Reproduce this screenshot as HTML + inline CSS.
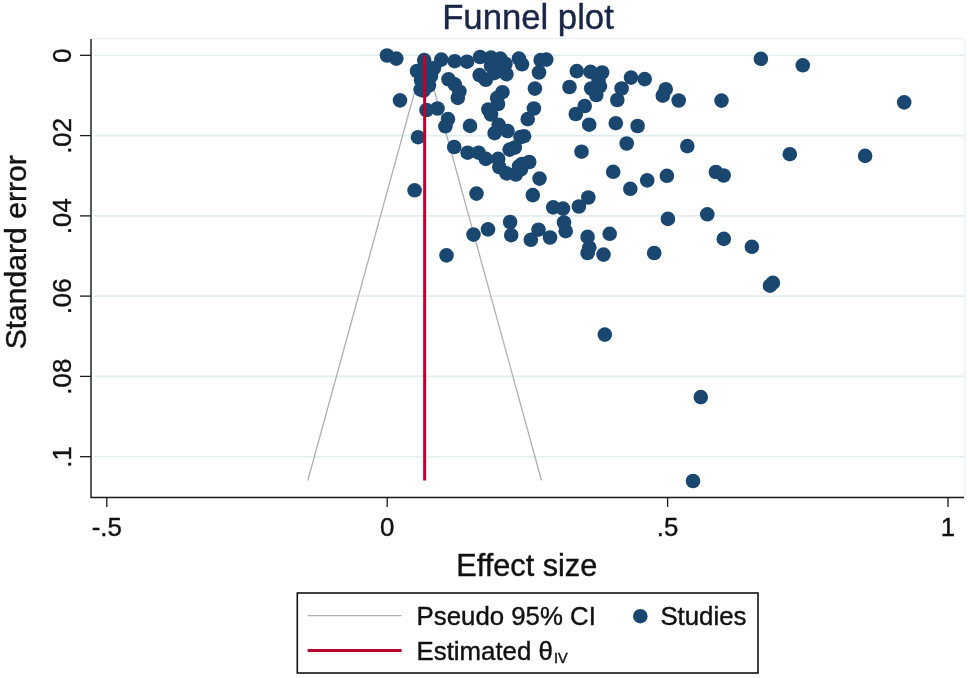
<!DOCTYPE html>
<html><head><meta charset="utf-8"><title>Funnel plot</title>
<style>
html,body{margin:0;padding:0;background:#fff;}
body{width:968px;height:678px;overflow:hidden;}
svg{display:block;font-family:"Liberation Sans",sans-serif;}
</style></head><body>
<svg width="968" height="678" viewBox="0 0 968 678">
<rect x="0" y="0" width="968" height="678" fill="#ffffff"/>
<rect x="91" y="38.7" width="873.7" height="458.5" fill="#ffffff" stroke="#e9f2f4" stroke-width="1.2"/>
<line x1="94.5" x2="964.5" y1="55.3" y2="55.3" stroke="#e0eef1" stroke-width="1.6"/>
<line x1="94.5" x2="964.5" y1="135.6" y2="135.6" stroke="#e0eef1" stroke-width="1.6"/>
<line x1="94.5" x2="964.5" y1="215.9" y2="215.9" stroke="#e0eef1" stroke-width="1.6"/>
<line x1="94.5" x2="964.5" y1="296.1" y2="296.1" stroke="#e0eef1" stroke-width="1.6"/>
<line x1="94.5" x2="964.5" y1="376.4" y2="376.4" stroke="#e0eef1" stroke-width="1.6"/>
<line x1="94.5" x2="964.5" y1="456.7" y2="456.7" stroke="#e0eef1" stroke-width="1.6"/>
<polyline points="307.8,480.5 424.65,55.3 541.5,480.5" fill="none" stroke="#b0b0b0" stroke-width="1.3"/>
<g fill="#1a476f">
<circle cx="387.0" cy="55.5" r="7.3"/>
<circle cx="396.3" cy="58.6" r="7.3"/>
<circle cx="400.0" cy="100.4" r="7.3"/>
<circle cx="424.2" cy="60.1" r="7.3"/>
<circle cx="417.0" cy="71.0" r="7.3"/>
<circle cx="420.6" cy="89.6" r="7.3"/>
<circle cx="428.9" cy="85.5" r="7.3"/>
<circle cx="431.0" cy="76.0" r="7.3"/>
<circle cx="434.0" cy="68.0" r="7.3"/>
<circle cx="441.3" cy="59.6" r="7.3"/>
<circle cx="454.7" cy="61.2" r="7.3"/>
<circle cx="467.0" cy="61.7" r="7.3"/>
<circle cx="448.5" cy="79.3" r="7.3"/>
<circle cx="454.7" cy="84.4" r="7.3"/>
<circle cx="457.8" cy="97.9" r="7.3"/>
<circle cx="426.5" cy="110.0" r="7.3"/>
<circle cx="437.5" cy="108.5" r="7.3"/>
<circle cx="421.0" cy="80.0" r="7.3"/>
<circle cx="425.0" cy="70.0" r="7.3"/>
<circle cx="423.7" cy="90.6" r="7.3"/>
<circle cx="459.4" cy="91.5" r="7.3"/>
<circle cx="480.1" cy="57.0" r="7.3"/>
<circle cx="491.0" cy="57.6" r="7.3"/>
<circle cx="500.3" cy="58.6" r="7.3"/>
<circle cx="505.5" cy="63.8" r="7.3"/>
<circle cx="501.3" cy="71.0" r="7.3"/>
<circle cx="506.5" cy="74.1" r="7.3"/>
<circle cx="494.1" cy="73.1" r="7.3"/>
<circle cx="479.6" cy="75.1" r="7.3"/>
<circle cx="485.8" cy="79.8" r="7.3"/>
<circle cx="491.0" cy="65.8" r="7.3"/>
<circle cx="518.9" cy="58.6" r="7.3"/>
<circle cx="522.0" cy="64.3" r="7.3"/>
<circle cx="540.6" cy="60.1" r="7.3"/>
<circle cx="546.3" cy="59.6" r="7.3"/>
<circle cx="539.0" cy="72.5" r="7.3"/>
<circle cx="534.9" cy="88.6" r="7.3"/>
<circle cx="533.9" cy="108.5" r="7.3"/>
<circle cx="502.4" cy="92.2" r="7.3"/>
<circle cx="497.2" cy="97.9" r="7.3"/>
<circle cx="498.0" cy="104.0" r="7.3"/>
<circle cx="488.4" cy="109.5" r="7.3"/>
<circle cx="448.0" cy="119.1" r="7.3"/>
<circle cx="445.4" cy="126.3" r="7.3"/>
<circle cx="418.0" cy="137.2" r="7.3"/>
<circle cx="454.2" cy="147.0" r="7.3"/>
<circle cx="470.0" cy="125.9" r="7.3"/>
<circle cx="467.6" cy="152.7" r="7.3"/>
<circle cx="491.0" cy="114.5" r="7.3"/>
<circle cx="498.7" cy="124.8" r="7.3"/>
<circle cx="494.6" cy="133.1" r="7.3"/>
<circle cx="507.5" cy="131.0" r="7.3"/>
<circle cx="524.0" cy="136.2" r="7.3"/>
<circle cx="520.5" cy="137.0" r="7.3"/>
<circle cx="509.6" cy="149.6" r="7.3"/>
<circle cx="514.8" cy="147.5" r="7.3"/>
<circle cx="527.7" cy="119.1" r="7.3"/>
<circle cx="478.6" cy="152.7" r="7.3"/>
<circle cx="485.8" cy="158.9" r="7.3"/>
<circle cx="498.2" cy="158.9" r="7.3"/>
<circle cx="499.3" cy="167.1" r="7.3"/>
<circle cx="529.2" cy="162.0" r="7.3"/>
<circle cx="519.0" cy="166.3" r="7.3"/>
<circle cx="506.5" cy="173.4" r="7.3"/>
<circle cx="515.8" cy="174.5" r="7.3"/>
<circle cx="521.0" cy="169.3" r="7.3"/>
<circle cx="522.0" cy="164.0" r="7.3"/>
<circle cx="539.5" cy="178.6" r="7.3"/>
<circle cx="532.8" cy="195.1" r="7.3"/>
<circle cx="476.5" cy="193.6" r="7.3"/>
<circle cx="510.1" cy="222.0" r="7.3"/>
<circle cx="488.0" cy="229.4" r="7.3"/>
<circle cx="538.5" cy="229.7" r="7.3"/>
<circle cx="553.2" cy="207.4" r="7.3"/>
<circle cx="563.0" cy="208.6" r="7.3"/>
<circle cx="473.5" cy="234.6" r="7.3"/>
<circle cx="414.6" cy="190.3" r="7.3"/>
<circle cx="576.8" cy="71.1" r="7.3"/>
<circle cx="590.5" cy="71.8" r="7.3"/>
<circle cx="602.1" cy="72.5" r="7.3"/>
<circle cx="569.5" cy="87.0" r="7.3"/>
<circle cx="591.2" cy="88.5" r="7.3"/>
<circle cx="599.9" cy="86.3" r="7.3"/>
<circle cx="596.3" cy="95.0" r="7.3"/>
<circle cx="598.5" cy="79.8" r="7.3"/>
<circle cx="621.6" cy="88.5" r="7.3"/>
<circle cx="617.3" cy="100.0" r="7.3"/>
<circle cx="631.0" cy="77.6" r="7.3"/>
<circle cx="644.7" cy="79.1" r="7.3"/>
<circle cx="665.7" cy="89.2" r="7.3"/>
<circle cx="662.8" cy="95.7" r="7.3"/>
<circle cx="678.7" cy="100.5" r="7.3"/>
<circle cx="584.7" cy="106.0" r="7.3"/>
<circle cx="575.8" cy="114.0" r="7.3"/>
<circle cx="589.2" cy="124.7" r="7.3"/>
<circle cx="615.8" cy="123.2" r="7.3"/>
<circle cx="637.6" cy="126.0" r="7.3"/>
<circle cx="626.7" cy="143.5" r="7.3"/>
<circle cx="760.9" cy="58.8" r="7.3"/>
<circle cx="802.8" cy="65.3" r="7.3"/>
<circle cx="721.5" cy="100.6" r="7.3"/>
<circle cx="904.2" cy="102.4" r="7.3"/>
<circle cx="687.3" cy="146.1" r="7.3"/>
<circle cx="789.8" cy="154.2" r="7.3"/>
<circle cx="865.1" cy="155.9" r="7.3"/>
<circle cx="715.9" cy="172.0" r="7.3"/>
<circle cx="723.6" cy="175.5" r="7.3"/>
<circle cx="707.3" cy="214.3" r="7.3"/>
<circle cx="723.8" cy="238.9" r="7.3"/>
<circle cx="751.9" cy="246.8" r="7.3"/>
<circle cx="581.5" cy="151.7" r="7.3"/>
<circle cx="613.2" cy="171.8" r="7.3"/>
<circle cx="666.9" cy="175.8" r="7.3"/>
<circle cx="647.2" cy="180.4" r="7.3"/>
<circle cx="630.3" cy="188.8" r="7.3"/>
<circle cx="588.3" cy="197.5" r="7.3"/>
<circle cx="578.9" cy="206.5" r="7.3"/>
<circle cx="564.0" cy="222.5" r="7.3"/>
<circle cx="565.7" cy="231.2" r="7.3"/>
<circle cx="550.0" cy="237.5" r="7.3"/>
<circle cx="587.6" cy="236.9" r="7.3"/>
<circle cx="589.3" cy="247.6" r="7.3"/>
<circle cx="587.6" cy="253.0" r="7.3"/>
<circle cx="603.5" cy="254.6" r="7.3"/>
<circle cx="609.7" cy="233.8" r="7.3"/>
<circle cx="667.9" cy="218.9" r="7.3"/>
<circle cx="654.2" cy="253.0" r="7.3"/>
<circle cx="446.5" cy="255.4" r="7.3"/>
<circle cx="511.2" cy="235.1" r="7.3"/>
<circle cx="530.8" cy="239.8" r="7.3"/>
<circle cx="770.0" cy="285.7" r="7.3"/>
<circle cx="772.9" cy="282.8" r="7.3"/>
<circle cx="604.8" cy="334.6" r="7.3"/>
<circle cx="700.8" cy="397.1" r="7.3"/>
<circle cx="693.0" cy="481.0" r="7.3"/>
</g>
<line x1="424.65" x2="424.65" y1="55.3" y2="480.5" stroke="#b9052e" stroke-width="3"/>
<polyline points="91,39 91,497.5 964,497.5" fill="none" stroke="#1a1a1a" stroke-width="1.4" stroke-linejoin="round"/>
<line x1="80" x2="91" y1="55.3" y2="55.3" stroke="#1a1a1a" stroke-width="1.3"/>
<text transform="translate(71,55.6) rotate(-90)" text-anchor="middle" font-size="25.8" fill="#111" stroke="#111" stroke-width="0.4">0</text>
<line x1="80" x2="91" y1="135.6" y2="135.6" stroke="#1a1a1a" stroke-width="1.3"/>
<text transform="translate(71,135.9) rotate(-90)" text-anchor="middle" font-size="25.8" fill="#111" stroke="#111" stroke-width="0.4">.02</text>
<line x1="80" x2="91" y1="215.9" y2="215.9" stroke="#1a1a1a" stroke-width="1.3"/>
<text transform="translate(71,216.2) rotate(-90)" text-anchor="middle" font-size="25.8" fill="#111" stroke="#111" stroke-width="0.4">.04</text>
<line x1="80" x2="91" y1="296.1" y2="296.1" stroke="#1a1a1a" stroke-width="1.3"/>
<text transform="translate(71,296.4) rotate(-90)" text-anchor="middle" font-size="25.8" fill="#111" stroke="#111" stroke-width="0.4">.06</text>
<line x1="80" x2="91" y1="376.4" y2="376.4" stroke="#1a1a1a" stroke-width="1.3"/>
<text transform="translate(71,376.7) rotate(-90)" text-anchor="middle" font-size="25.8" fill="#111" stroke="#111" stroke-width="0.4">.08</text>
<line x1="80" x2="91" y1="456.7" y2="456.7" stroke="#1a1a1a" stroke-width="1.3"/>
<text transform="translate(71,457.0) rotate(-90)" text-anchor="middle" font-size="25.8" fill="#111" stroke="#111" stroke-width="0.4">.1</text>
<line x1="106.8" x2="106.8" y1="497.5" y2="507" stroke="#1a1a1a" stroke-width="1.3"/>
<text x="106.8" y="536.1" text-anchor="middle" font-size="25.8" fill="#111" stroke="#111" stroke-width="0.4">-.5</text>
<line x1="387.2" x2="387.2" y1="497.5" y2="507" stroke="#1a1a1a" stroke-width="1.3"/>
<text x="387.2" y="536.1" text-anchor="middle" font-size="25.8" fill="#111" stroke="#111" stroke-width="0.4">0</text>
<line x1="667.6" x2="667.6" y1="497.5" y2="507" stroke="#1a1a1a" stroke-width="1.3"/>
<text x="667.6" y="536.1" text-anchor="middle" font-size="25.8" fill="#111" stroke="#111" stroke-width="0.4">.5</text>
<line x1="948.0" x2="948.0" y1="497.5" y2="507" stroke="#1a1a1a" stroke-width="1.3"/>
<text x="948.0" y="536.1" text-anchor="middle" font-size="25.8" fill="#111" stroke="#111" stroke-width="0.4">1</text>
<text x="528.0" y="28.6" text-anchor="middle" font-size="34.7" fill="#1a2647" stroke="#1a2647" stroke-width="0.4">Funnel plot</text>
<text x="526.8" y="575.5" text-anchor="middle" font-size="30.7" fill="#111" stroke="#111" stroke-width="0.4">Effect size</text>
<text transform="translate(26,252.3) rotate(-90)" text-anchor="middle" font-size="30.1" fill="#111" stroke="#111" stroke-width="0.4">Standard error</text>
<rect x="297.3" y="593" width="460.7" height="80" fill="#fff" stroke="#111" stroke-width="1.6"/>
<line x1="307.6" x2="401.6" y1="615.6" y2="615.6" stroke="#b0b0b0" stroke-width="1.3"/>
<line x1="307.6" x2="401.6" y1="650.5" y2="650.5" stroke="#b9052e" stroke-width="3"/>
<text x="416.6" y="624.6" font-size="25.8" fill="#111" stroke="#111" stroke-width="0.4">Pseudo 95% CI</text>
<text x="416.6" y="659.9" font-size="25.8" fill="#111" stroke="#111" stroke-width="0.4">Estimated θ<tspan font-size="14.5" dy="3.2" dx="1.2">IV</tspan></text>
<circle cx="640.3" cy="616.2" r="7.3" fill="#1a476f" />
<text x="660.4" y="624.6" font-size="25.8" fill="#111" stroke="#111" stroke-width="0.4">Studies</text>
</svg>
</body></html>
